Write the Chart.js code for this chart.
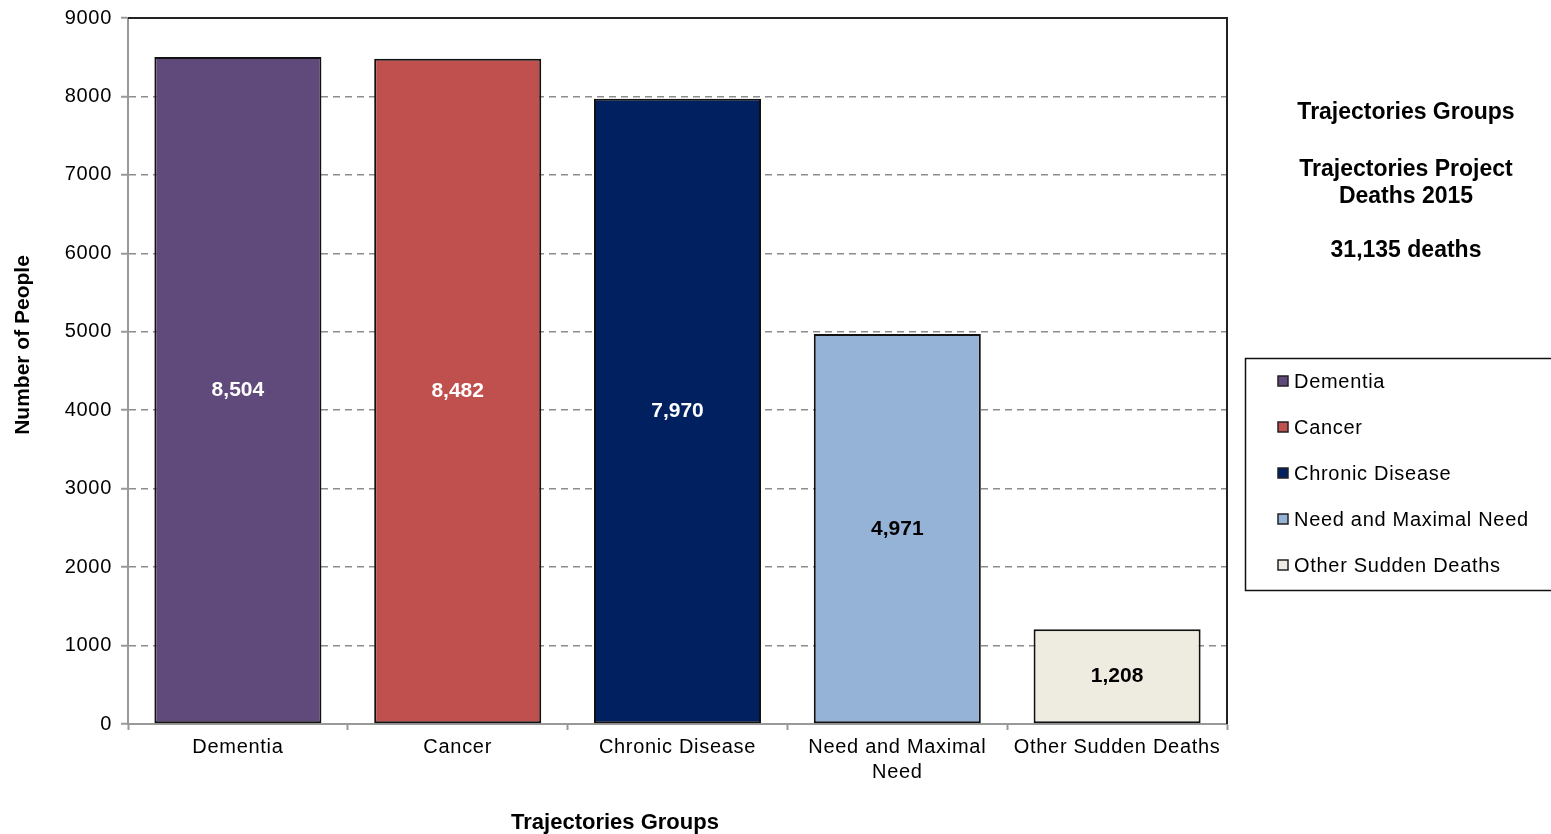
<!DOCTYPE html>
<html lang="en">

<head>
    <meta charset="UTF-8">
    <title>Trajectories Groups</title>
    <script src="https://cdn.jsdelivr.net/npm/chart.js"></script>
    <style>
        body {
            margin: 0;
            background: #fff;
        }
    </style>
</head>

<body>
    <canvas id="chart" width="1551" height="834"></canvas>

    <script>
        const categories = ['Dementia', 'Cancer', 'Chronic Disease', 'Need and Maximal Need', 'Other Sudden Deaths'];
        const deaths = [8504, 8482, 7970, 4971, 1208];
        const barColors = ['#604a7b', '#c0504d', '#002060', '#95b3d7', '#eeece1'];
        const labelColors = ['#ffffff', '#ffffff', '#ffffff', '#000000', '#000000'];
        const sideText = [['Trajectories Groups'], ['Trajectories Project', 'Deaths 2015'], ['31,135 deaths']];

        const FONT = "'Liberation Sans', Arial, sans-serif";

        // split long category names into two lines like excel does
        function wrap(label) {
            if (label.length <= 20) return label;
            const i = label.lastIndexOf(' ');
            return [label.slice(0, i), label.slice(i + 1)];
        }

        // excel spaces its regular text out a little
        const spacing = {
            id: 'spacing',
            beforeInit(chart) { chart.ctx.letterSpacing = '0.7px'; },
            beforeDraw(chart) { chart.ctx.letterSpacing = '0.7px'; }
        };

        const barLabels = {
            id: 'barLabels',
            afterDatasetsDraw(chart) {
                const ctx = chart.ctx;
                const meta = chart.getDatasetMeta(0);
                const y = chart.scales.y;
                ctx.save();
                ctx.letterSpacing = '0px';
                ctx.font = 'bold 21px ' + FONT;
                ctx.textAlign = 'center';
                ctx.textBaseline = 'middle';
                meta.data.forEach((bar, i) => {
                    ctx.fillStyle = labelColors[i];
                    ctx.fillText(deaths[i].toLocaleString('en-US'), bar.x, y.getPixelForValue(deaths[i] / 2));
                });
                ctx.restore();
            }
        };

        const frame = {
            id: 'frame',
            afterDraw(chart) {
                const ctx = chart.ctx;
                const a = chart.chartArea;
                ctx.save();
                // top and right border of plot area
                ctx.strokeStyle = '#222';
                ctx.lineWidth = 2;
                ctx.beginPath();
                ctx.moveTo(a.left, a.top);
                ctx.lineTo(a.right, a.top);
                ctx.lineTo(a.right, a.bottom);
                ctx.stroke();

                // axis titles (excel puts them a bit off centre)
                ctx.letterSpacing = '0px';
                ctx.fillStyle = '#000';
                ctx.textAlign = 'center';
                ctx.textBaseline = 'middle';
                ctx.font = 'bold 22px ' + FONT;
                ctx.fillText('Trajectories Groups', 615, 823);
                ctx.save();
                ctx.translate(23, 345);
                ctx.rotate(-Math.PI / 2);
                ctx.font = 'bold 21px ' + FONT;
                ctx.fillText('Number of People', 0, 0);
                ctx.restore();

                // side text
                ctx.font = 'bold 23px ' + FONT;
                const tops = [113, 170, 251];
                sideText.forEach((block, b) => {
                    block.forEach((line, j) => ctx.fillText(line, 1406, tops[b] + j * 27));
                });

                // legend
                ctx.strokeStyle = '#111';
                ctx.lineWidth = 1.5;
                ctx.strokeRect(1245.5, 358.5, 320, 232);
                ctx.letterSpacing = '0.7px';
                ctx.font = '20px ' + FONT;
                ctx.textAlign = 'left';
                categories.forEach((c, i) => {
                    const cy = 381 + i * 46;
                    ctx.fillStyle = barColors[i];
                    ctx.fillRect(1278, cy - 5, 10, 10);
                    ctx.lineWidth = 1.5;
                    ctx.strokeStyle = '#222';
                    ctx.strokeRect(1278, cy - 5, 10, 10);
                    ctx.fillStyle = '#000';
                    ctx.fillText(c, 1294, cy + 1);
                });
                ctx.restore();
            }
        };

        const config = {
            type: 'bar',
            data: {
                labels: categories,
                datasets: [{
                    data: deaths,
                    backgroundColor: barColors,
                    borderColor: '#111',
                    borderWidth: 2,
                    borderSkipped: false,
                    categoryPercentage: 1,
                    barPercentage: 0.76
                }]
            },
            options: {
                responsive: false,
                animation: false,
                layout: {
                    padding: { left: 0, right: 324, top: 18, bottom: 0 }
                },
                plugins: {
                    legend: { display: false },
                    tooltip: { enabled: false }
                },
                scales: {
                    x: {
                        z: 1,
                        afterFit(scale) { scale.height = 110; },
                        grid: {
                            drawOnChartArea: false,
                            tickLength: 6,
                            tickColor: '#999',
                            tickWidth: 2
                        },
                        border: { color: '#999', width: 2 },
                        ticks: {
                            color: '#000',
                            padding: 5,
                            maxRotation: 0,
                            autoSkip: false,
                            font: { family: FONT, size: 20, lineHeight: 1.25 },
                            callback(v, i) { return wrap(categories[i]); }
                        }
                    },
                    y: {
                        min: 0,
                        max: 9000,
                        afterFit(scale) {
                            scale.width = 128;
                            scale.paddingTop = 0;
                            scale.paddingBottom = 0;
                        },
                        ticks: {
                            stepSize: 1000,
                            color: '#000',
                            padding: 9,
                            font: { family: FONT, size: 20 },
                            callback: (v) => String(v)
                        },
                        grid: {
                            color: (c) => (c.tick.value === 0 || c.tick.value === 9000) ? 'rgba(0,0,0,0)' : '#8c8c8c',
                            lineWidth: 1.5,
                            tickLength: 7,
                            tickColor: '#999',
                            tickWidth: 2,
                            tickBorderDash: []
                        },
                        border: { color: '#999', width: 2, dash: [7, 5] }
                    }
                }
            },
            plugins: [spacing, barLabels, frame]
        };

        const myChart = new Chart(document.getElementById('chart'), config);
    </script>
</body>

</html>
